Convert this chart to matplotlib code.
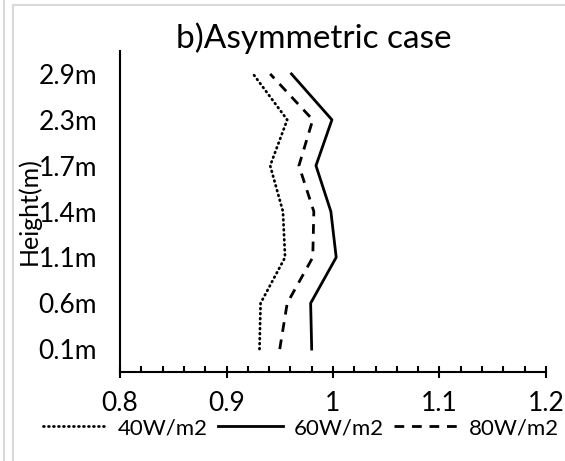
import numpy as np
import matplotlib
matplotlib.use("Agg")
import matplotlib.pyplot as plt
from matplotlib.lines import Line2D

plt.rcParams['font.family'] = ['Lato', 'DejaVu Sans']

heights = ['0.1m', '0.6m', '1.1m', '1.4m', '1.7m', '2.3m', '2.9m']
w40 = [0.931, 0.932, 0.955, 0.953, 0.941, 0.957, 0.925]
w60 = [0.980, 0.979, 1.003, 0.998, 0.984, 0.999, 0.961]
w80 = [0.950, 0.957, 0.981, 0.982, 0.968, 0.981, 0.941]
series_labels = ['40W/m2', '60W/m2', '80W/m2']

W, H = 565, 461
fig = plt.figure(figsize=(W / 100, H / 100), dpi=100)

# chart frame borders (light grey)
fig.add_artist(Line2D([4 / W, 4 / W], [0, 1], color='#d9d9d9', lw=1.5))
fig.add_artist(Line2D([13 / W, 13 / W], [0, 1 - 5 / H], color='#d9d9d9', lw=1.5))
fig.add_artist(Line2D([13 / W, 1], [1 - 5 / H, 1 - 5 / H], color='#d9d9d9', lw=1.5))

ax = fig.add_axes([120 / W, (H - 372) / H, 426 / W, 321 / H])
y = np.arange(len(heights))

l40, = ax.plot(w40, y, color='black', lw=2.0, linestyle=(0, (0.3, 1.5)),
               dash_capstyle='round')
l60, = ax.plot(w60, y, color='black', lw=2.0, linestyle='-')
l80, = ax.plot(w80, y, color='black', lw=2.0, linestyle=(0, (3.5, 2.8)))

ax.set_xlim(0.8, 1.2)
ax.set_ylim(-0.5, len(heights) - 0.5)
ax.set_xticks([0.8, 0.9, 1.0, 1.1, 1.2])
ax.set_xticklabels(['0.8', '0.9', '1', '1.1', '1.2'])
ax.set_xticks(np.arange(0.8, 1.2001, 0.02), minor=True)
ax.set_yticks(y)
ax.set_yticklabels(heights)

for s in ['top', 'right']:
    ax.spines[s].set_visible(False)
ax.spines['left'].set_linewidth(1.5)
ax.spines['bottom'].set_linewidth(1.5)

ax.tick_params(axis='x', which='major', direction='inout', length=9, width=1.5,
               labelsize=19, pad=9)
ax.tick_params(axis='x', which='minor', direction='in', length=4, width=1.5)
ax.tick_params(axis='y', length=0, labelsize=19, pad=16.5)

ax.set_ylabel('Height(m)', fontsize=18, va='center')
ax.yaxis.set_label_coords(-91 / 426, 0.5)

fig.text(314 / W, 1 - 38 / H, 'b)Asymmetric case', fontsize=24,
         ha='center', va='center')

fig.legend([l40, l60, l80], series_labels, loc='center',
           bbox_to_anchor=(301 / W, 1 - 428 / H), ncol=3, frameon=False,
           fontsize=16, handlelength=2.9, handletextpad=0.5,
           columnspacing=0.45, borderpad=0)

fig.savefig('out.png', dpi=100)
